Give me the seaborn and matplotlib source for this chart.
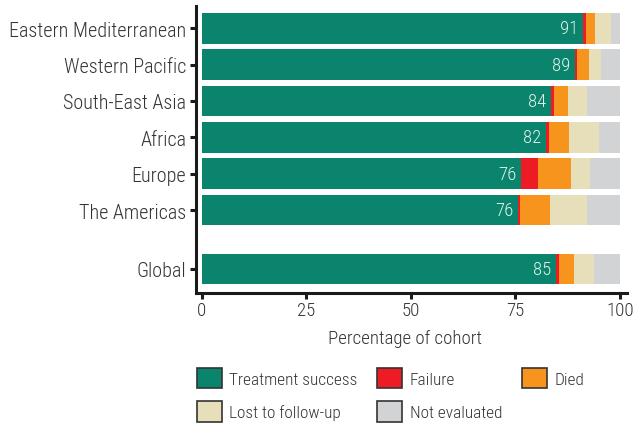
import numpy as np
import pandas as pd
import seaborn as sns
import matplotlib.pyplot as plt
from matplotlib.patches import Patch

# data (percent of cohort)
regions = ["Eastern Mediterranean", "Western Pacific", "South-East Asia", "Africa",
           "Europe", "The Americas", "Global"]
success = [91.2, 89.3, 83.6, 82.3, 76.4, 75.7, 84.7]
failure = [0.7, 0.4, 0.6, 0.8, 4.0, 0.5, 0.7]
died = [2.1, 2.9, 3.4, 4.7, 7.9, 7.2, 3.6]
lost = [3.9, 2.9, 4.5, 7.2, 4.5, 8.8, 4.8]
not_eval = [2.1, 4.5, 7.9, 5.0, 7.2, 7.8, 6.2]
success_labels = ["91", "89", "84", "82", "76", "76", "85"]

outcomes = ["Treatment success", "Failure", "Died", "Lost to follow-up", "Not evaluated"]
colors = ["#0b846d", "#ed1c24", "#f7941d", "#e6dfba", "#d1d3d4"]

# row positions, Global set apart from the regions
ypos = [0, 1, 2, 3, 4, 5, 6.62]

df = pd.DataFrame({"region": regions, "y": ypos,
                   "Treatment success": success, "Failure": failure, "Died": died,
                   "Lost to follow-up": lost, "Not evaluated": not_eval})
cum = df[outcomes].cumsum(axis=1)

sns.set_theme(style="ticks")
plt.rcParams['font.family'] = ['Roboto Condensed', 'Liberation Sans Narrow', 'Roboto', 'DejaVu Sans']
plt.rcParams['font.weight'] = 'light'
plt.rcParams['axes.labelweight'] = 'light'

fig = plt.figure(figsize=(6.33, 4.27), dpi=100)
ax = fig.add_axes([196/633, 1 - 294/427, (627 - 196)/633, (294 - 7)/427])

# stacked bars: draw the running totals from the widest back to the narrowest
for name, col in zip(outcomes[::-1], colors[::-1]):
    sns.barplot(x=cum[name], y=df["y"], orient="y", native_scale=True,
                color=col, width=0.845, saturation=1, linewidth=0, ax=ax)

for yy, val, lab in zip(df["y"], df["Treatment success"], success_labels):
    ax.text(val - 1.2, yy, lab, ha="right", va="center", color="#e3f1ec", fontsize=13.5)

ax.set_xlim(-1.4, 101.7)
ax.set_ylim(7.28, -0.61)
ax.set_xticks([0, 25, 50, 75, 100])
ax.set_yticks(ypos)
ax.set_yticklabels(regions)
ax.set_ylabel("")
ax.set_xlabel("Percentage of cohort", color="#333333", fontsize=13.6, fontweight="light")
ax.xaxis.set_label_coords(0.485, -0.125)
ax.tick_params(axis="both", colors="#1a1a1a", labelcolor="#333333", width=2.2, length=4)
ax.tick_params(axis="x", pad=2, labelsize=13.6)
ax.tick_params(axis="y", pad=3, labelsize=14.5)
for s in ["top", "right"]:
    ax.spines[s].set_visible(False)
for s in ["left", "bottom"]:
    ax.spines[s].set_linewidth(2.2)
    ax.spines[s].set_color("#1a1a1a")

handles = [Patch(facecolor=c, edgecolor="#333333", linewidth=1.2) for c in colors]
order = [0, 3, 1, 4, 2]
fig.legend([handles[i] for i in order], [outcomes[i] for i in order],
           loc="upper left", bbox_to_anchor=(197/633, 1 - 369/427), ncol=3,
           frameon=False, borderpad=0, borderaxespad=0, handlelength=1.45,
           handleheight=1.45, handletextpad=0.42, columnspacing=1.15,
           labelspacing=0.75, fontsize=12.4, labelcolor="#333333")

fig.savefig("out.png", dpi=100)
